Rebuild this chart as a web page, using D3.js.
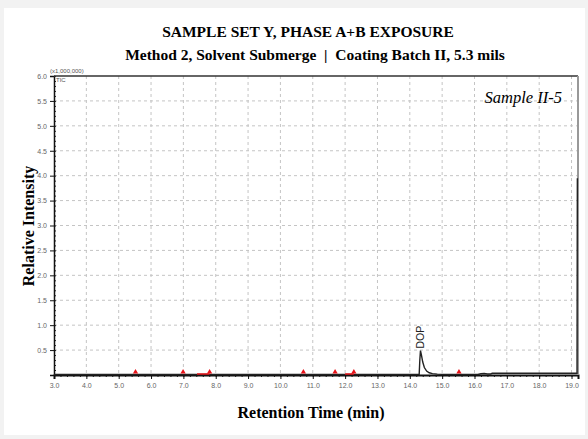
<!DOCTYPE html>
<html>
<head>
<meta charset="utf-8">
<script src="https://cdn.jsdelivr.net/npm/d3@7"></script>
<style>
  body { margin: 0; background: #f2f2f2; }
  svg { display: block; }
</style>
</head>
<body>
<script>
// chromatogram trace (retention time in min, intensity x1,000,000)
const times = [3.0, 4.0, 5.5, 7.0, 9.0, 11.0, 13.0, 14.29, 14.31, 14.33, 14.36, 14.40, 14.45, 14.52, 14.60, 14.70, 14.85, 15.0, 15.5, 16.1, 16.2, 16.3, 16.4, 16.5, 16.55, 17.0, 18.0, 19.0, 19.17, 19.18];
const intensity = [0.01, 0.01, 0.01, 0.01, 0.01, 0.01, 0.01, 0.01, 0.30, 0.49, 0.40, 0.26, 0.15, 0.08, 0.045, 0.028, 0.018, 0.012, 0.01, 0.01, 0.025, 0.03, 0.02, 0.02, 0.035, 0.035, 0.035, 0.035, 0.035, 3.95];
// red integration marks
const markTimes = [5.52, 6.99, 7.81, 10.71, 11.69, 12.27, 15.52];
const markSpans = [[7.42, 7.81], [12.0, 12.27]];
const xTicks = [3, 4, 5, 6, 7, 8, 9, 10, 11, 12, 13, 14, 15, 16, 17, 18, 19];
const yTicks = [0.5, 1.0, 1.5, 2.0, 2.5, 3.0, 3.5, 4.0, 4.5, 5.0, 5.5, 6.0];

const W = 588, H = 439;
const margin = { top: 76, right: 10, bottom: 64, left: 54 };
const width = W - margin.left - margin.right;   // 524
const height = H - margin.top - margin.bottom;  // 299

const svg = d3.select("body").append("svg")
    .attr("width", W)
    .attr("height", H);

// white card
svg.append("rect")
    .attr("x", 4).attr("y", 8)
    .attr("width", 581).attr("height", 427)
    .attr("fill", "#fff");

svg.append("text")
    .attr("x", 308).attr("y", 37)
    .attr("text-anchor", "middle")
    .style("font", "bold 15.5px 'Liberation Serif', serif")
    .text("SAMPLE SET Y, PHASE A+B EXPOSURE");

svg.append("text")
    .attr("x", 315).attr("y", 60)
    .attr("text-anchor", "middle")
    .style("font", "bold 15.5px 'Liberation Serif', serif")
    .style("white-space", "pre")
    .attr("xml:space", "preserve")
    .text("Method 2, Solvent Submerge  |  Coating Batch II, 5.3 mils");

const g = svg.append("g")
    .attr("transform", "translate(" + margin.left + "," + margin.top + ")");

const x = d3.scaleLinear().domain([3.0, 19.2]).range([0, width]);
const y = d3.scaleLinear().domain([0, 6.0]).range([height, 0]);

// grid
g.append("g").selectAll("line")
    .data(xTicks.slice(1))
    .enter().append("line")
    .attr("x1", d => x(d)).attr("x2", d => x(d))
    .attr("y1", 0).attr("y2", height)
    .attr("stroke", "#c4c4c4")
    .attr("stroke-dasharray", "3,3");

g.append("g").selectAll("line")
    .data(yTicks.slice(0, -1))
    .enter().append("line")
    .attr("x1", 0).attr("x2", width)
    .attr("y1", d => y(d)).attr("y2", d => y(d))
    .attr("stroke", "#c4c4c4")
    .attr("stroke-dasharray", "3,3");

// minor ticks
g.append("g")
    .attr("transform", "translate(0," + height + ")")
    .call(d3.axisBottom(x).ticks(80).tickSize(2).tickFormat(""))
    .call(a => a.select(".domain").remove())
    .selectAll("line").attr("stroke", "#222");

g.append("g")
    .call(d3.axisLeft(y).ticks(60).tickSize(-2).tickFormat(""))
    .call(a => a.select(".domain").remove())
    .selectAll("line").attr("stroke", "#222");

// major axes
const xAxis = g.append("g")
    .attr("transform", "translate(0," + height + ")")
    .call(d3.axisBottom(x).tickValues(xTicks).tickSize(4).tickFormat(d3.format(".1f")));
xAxis.select(".domain").attr("stroke", "#111").attr("stroke-width", 2);
xAxis.selectAll("line").attr("stroke", "#111");
xAxis.selectAll("text")
    .attr("fill", "#666")
    .attr("dy", "0.9em")
    .style("font", "7px 'Liberation Sans Narrow', 'Liberation Sans', sans-serif");

const yAxis = g.append("g")
    .call(d3.axisLeft(y).tickValues(yTicks).tickSize(4).tickFormat(d3.format(".1f")));
yAxis.select(".domain").attr("stroke", "#111").attr("stroke-width", 1.5);
yAxis.selectAll("line").attr("stroke", "#111");
yAxis.selectAll("text")
    .attr("fill", "#666")
    .style("font", "7px 'Liberation Sans Narrow', 'Liberation Sans', sans-serif");

// top and right frame
g.append("line")
    .attr("x1", 0).attr("x2", width).attr("y1", 0).attr("y2", 0)
    .attr("stroke", "#333").attr("stroke-width", 1.5);
g.append("line")
    .attr("x1", width).attr("x2", width).attr("y1", 0).attr("y2", height)
    .attr("stroke", "#999").attr("stroke-width", 2);

g.append("text")
    .attr("x", -4).attr("y", -3)
    .attr("fill", "#555")
    .style("font", "6px 'Liberation Sans', sans-serif")
    .text("(x1,000,000)");
g.append("text")
    .attr("x", 2).attr("y", 6)
    .attr("fill", "#555")
    .style("font", "6px 'Liberation Sans', sans-serif")
    .text("TIC");

// trace
const line = d3.line()
    .x((d, i) => x(times[i]))
    .y(d => y(d));

g.append("path")
    .datum(intensity)
    .attr("fill", "none")
    .attr("stroke", "#222")
    .attr("stroke-width", 1.4)
    .attr("d", line);

// red marks
g.append("g").selectAll("line")
    .data(markSpans)
    .enter().append("line")
    .attr("x1", d => x(d[0])).attr("x2", d => x(d[1]))
    .attr("y1", height - 1).attr("y2", height - 1)
    .attr("stroke", "#e8141a").attr("stroke-width", 1.5);

g.append("g").selectAll("path")
    .data(markTimes)
    .enter().append("path")
    .attr("d", d3.symbol(d3.symbolTriangle, 12))
    .attr("transform", d => "translate(" + x(d) + "," + (height - 3) + ")")
    .attr("fill", "#e8141a");

// peak label
g.append("text")
    .attr("transform", "translate(" + (x(14.33) + 4) + "," + (y(0.49) - 2) + ") rotate(-90)")
    .attr("fill", "#222")
    .style("font", "10.5px 'Liberation Sans', sans-serif")
    .text("DOP");

g.append("text")
    .attr("x", width - 16).attr("y", 27)
    .attr("text-anchor", "end")
    .style("font", "italic 16.5px 'Liberation Serif', serif")
    .text("Sample II-5");

// axis titles
svg.append("text")
    .attr("transform", "translate(34,226) rotate(-90)")
    .attr("text-anchor", "middle")
    .style("font", "bold 16px 'Liberation Serif', serif")
    .text("Relative Intensity");

svg.append("text")
    .attr("x", 311).attr("y", 418)
    .attr("text-anchor", "middle")
    .style("font", "bold 16px 'Liberation Serif', serif")
    .text("Retention Time (min)");
</script>
</body>
</html>
